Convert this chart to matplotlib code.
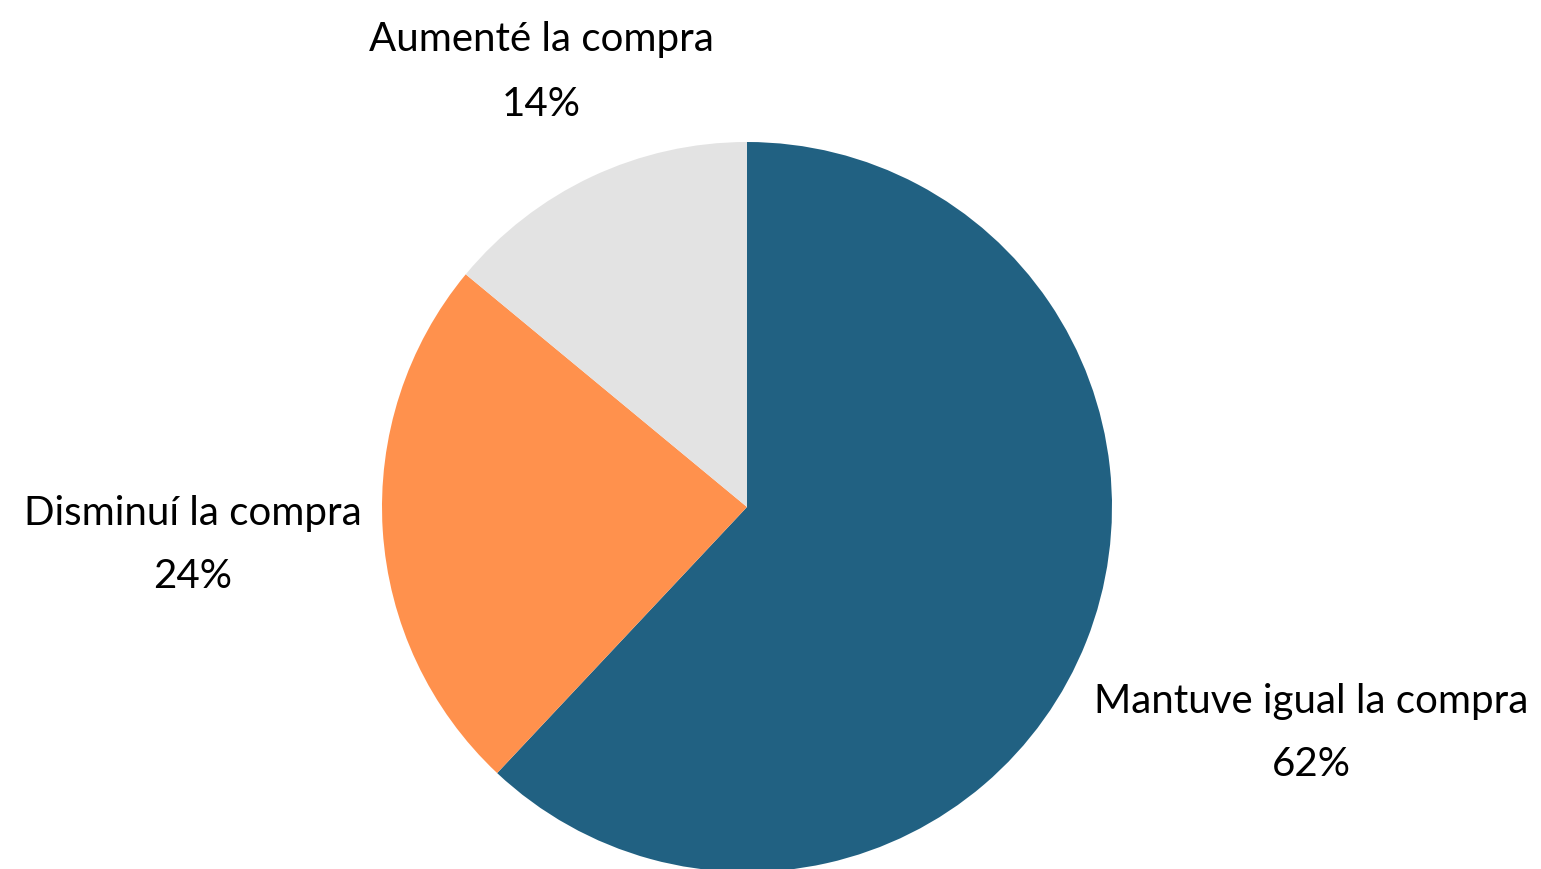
import matplotlib
matplotlib.use("Agg")
import matplotlib.pyplot as plt

categories = ["Mantuve igual la compra", "Disminuí la compra", "Aumenté la compra"]
values = [62, 24, 14]
colors = ["#216182", "#FF914D", "#E3E3E3"]

W, H = 1541, 869
fig = plt.figure(figsize=(W / 100, H / 100), dpi=100)
ax = fig.add_axes([0, 0, 1, 1])

cx, cy, r = 747, H - 507, 365
ax.pie(values, colors=colors, startangle=90, counterclock=False,
       center=(cx, cy), radius=r, frame=True,
       wedgeprops=dict(linewidth=0))
ax.set_xlim(0, W)
ax.set_ylim(0, H)
ax.set_aspect("equal")
ax.axis("off")

label_pos = [(1311, H - 733), (193, H - 545), (541, H - 72)]
for cat, v, (x, y) in zip(categories, values, label_pos):
    ax.text(x, y, f"{cat}\n{v}%", ha="center", va="center",
            fontsize=29, family="Lato", fontweight="normal",
            linespacing=1.9, color="#000000")

fig.savefig("out.png", dpi=100)
